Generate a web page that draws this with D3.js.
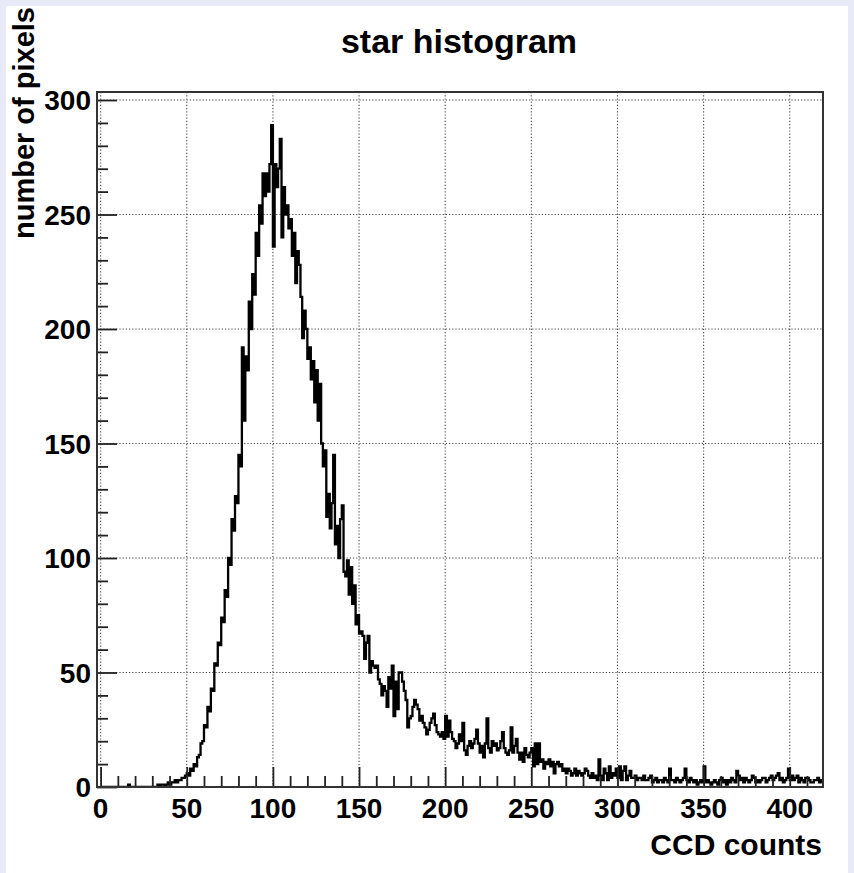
<!DOCTYPE html>
<html>
<head>
<meta charset="utf-8">
<script src="https://cdn.jsdelivr.net/npm/d3@7"></script>
<style>
  body { margin: 0; background: #e8eaf7; }
  text { font-family: "Liberation Sans", Arial, Helvetica, sans-serif; font-weight: bold; fill: #000; }
</style>
</head>
<body>
<div class="chart"></div>
<script>
// pixel counts per CCD-count bin (bin width 1, starting at 0)
const counts = [
  0,0,0,0,0,0,0,0,0,0,0,0,0,0,0,0,1,0,0,0,
  0,0,0,0,0,0,0,0,0,0,0,0,0,1,0,1,1,0,1,2,
  1,2,2,3,2,3,3,4,4,5,6,5,8,7,10,9,13,14,19,20,
  27,26,35,33,43,42,54,53,63,62,74,72,86,83,100,97,117,112,127,124,
  145,140,192,160,188,182,212,200,224,215,242,232,254,246,268,258,268,260,272,289,
  236,272,262,270,283,240,262,250,254,244,248,232,242,220,234,228,214,196,208,200,
  187,192,178,186,168,182,160,176,150,140,147,118,128,113,124,145,106,114,100,117,
  123,94,92,99,84,96,80,88,71,75,67,68,66,56,63,66,50,55,53,52,
  53,47,45,40,44,42,35,48,43,53,31,46,34,50,50,46,42,38,26,30,
  31,35,38,36,34,29,31,28,26,23,25,28,30,32,27,24,23,22,24,21,
  31,22,29,24,21,20,17,19,23,20,28,16,14,18,20,17,19,21,25,19,
  15,18,13,19,30,17,15,20,18,19,16,17,20,24,17,15,14,16,26,15,
  18,21,15,12,15,11,17,14,13,15,17,9,19,10,19,11,12,8,11,10,
  12,9,11,6,10,11,9,10,7,8,6,8,7,5,6,8,5,7,6,5,
  6,8,7,5,4,6,4,5,3,12,5,3,8,6,3,9,4,6,5,8,
  4,9,3,7,9,3,5,7,4,4,5,3,4,4,3,5,3,3,4,5,
  2,3,4,2,3,3,2,4,3,2,8,3,3,2,4,3,2,3,4,8,
  3,2,4,3,2,3,1,2,3,2,9,2,3,2,1,2,3,2,1,3,
  4,2,3,1,3,2,4,3,2,7,5,3,4,2,4,3,2,3,5,4,
  2,3,2,3,4,4,2,3,4,5,3,4,5,6,3,4,2,3,4,8,
  3,5,3,4,5,2,4,3,2,4,4,3,2,2,3,3,4,2,3
];
const xTicks = [0, 50, 100, 150, 200, 250, 300, 350, 400];
const yTicks = [0, 50, 100, 150, 200, 250, 300];

const W = 854, H = 873;
const frame = ({left: 97, right: 823, top: 92, bottom: 787});

const svg = d3.select('.chart').append('svg')
    .attr('width', W)
    .attr('height', H);

svg.append('rect')
    .attr('x', 6).attr('y', 6)
    .attr('width', W - 12).attr('height', H - 6)
    .attr('fill', '#fff');

const xScale = d3.scaleLinear()
    .domain([-2.1, 419.3])
    .range([frame.left, frame.right]);

const yScale = d3.scaleLinear()
    .domain([0, 303.5])
    .range([frame.bottom, frame.top]);

// dotted grid
svg.append('g').selectAll('line')
    .data(xTicks)
    .enter().append('line')
    .attr('x1', d => xScale(d)).attr('x2', d => xScale(d))
    .attr('y1', frame.top).attr('y2', frame.bottom)
    .attr('stroke', '#444').attr('stroke-width', 1.1)
    .attr('stroke-dasharray', '1.2,2');

svg.append('g').selectAll('line')
    .data(yTicks)
    .enter().append('line')
    .attr('x1', frame.left).attr('x2', frame.right)
    .attr('y1', d => yScale(d)).attr('y2', d => yScale(d))
    .attr('stroke', '#444').attr('stroke-width', 1.1)
    .attr('stroke-dasharray', '1.2,2');

// histogram outline
const pts = counts.map((c, i) => [i, c]);
pts.push([counts.length, counts[counts.length - 1]]);

svg.append('clipPath').attr('id', 'clip')
    .append('rect')
    .attr('x', frame.left).attr('y', frame.top)
    .attr('width', frame.right - frame.left)
    .attr('height', frame.bottom - frame.top);

svg.append('path')
    .datum(pts)
    .attr('clip-path', 'url(#clip)')
    .attr('fill', 'none')
    .attr('stroke', '#000')
    .attr('stroke-width', 2.3)
    .attr('d', d3.line()
        .x(d => xScale(d[0]))
        .y(d => yScale(d[1]))
        .curve(d3.curveStepAfter));

// axes, ROOT style: ticks inside the frame
const xAxis = d3.axisTop(xScale)
    .tickValues(d3.range(0, 420, 10))
    .tickSize(0)
    .tickFormat('');
const gx = svg.append('g')
    .attr('transform', `translate(0, ${frame.bottom})`)
    .call(xAxis);
gx.select('.domain').remove();
gx.selectAll('.tick line')
    .attr('y2', d => d % 50 === 0 ? -20 : -11)
    .attr('stroke', '#222').attr('stroke-width', 1.8);

const yAxis = d3.axisRight(yScale)
    .tickValues(d3.range(0, 301, 10))
    .tickSize(0)
    .tickFormat('');
const gy = svg.append('g')
    .attr('transform', `translate(${frame.left}, 0)`)
    .call(yAxis);
gy.select('.domain').remove();
gy.selectAll('.tick line')
    .attr('x2', d => d % 50 === 0 ? 20 : 11)
    .attr('stroke', '#222').attr('stroke-width', 1.8);

svg.append('rect')
    .attr('x', frame.left).attr('y', frame.top)
    .attr('width', frame.right - frame.left)
    .attr('height', frame.bottom - frame.top)
    .attr('fill', 'none')
    .attr('stroke', '#333')
    .attr('stroke-width', 2);

// tick labels
svg.append('g').selectAll('text')
    .data(xTicks)
    .enter().append('text')
    .attr('x', d => xScale(d))
    .attr('y', 818)
    .attr('text-anchor', 'middle')
    .attr('font-size', '28px')
    .text(d => d);

svg.append('g').selectAll('text')
    .data(yTicks)
    .enter().append('text')
    .attr('x', 91)
    .attr('y', d => yScale(d) + 10)
    .attr('text-anchor', 'end')
    .attr('font-size', '28px')
    .text(d => d);

// titles
svg.append('text')
    .attr('x', 459)
    .attr('y', 53)
    .attr('text-anchor', 'middle')
    .attr('font-size', '34px')
    .text('star histogram');

svg.append('text')
    .attr('x', 822)
    .attr('y', 855)
    .attr('text-anchor', 'end')
    .attr('font-size', '30px')
    .text('CCD counts');

svg.append('text')
    .attr('transform', 'translate(34, 7) rotate(-90)')
    .attr('text-anchor', 'end')
    .attr('font-size', '29px')
    .text('number of pixels');
</script>
</body>
</html>
